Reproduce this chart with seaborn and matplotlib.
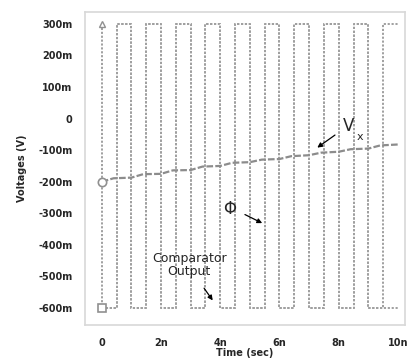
import matplotlib
matplotlib.use("Agg")
from matplotlib import pyplot as plt
import pandas as pd
import seaborn as sns

# time in ns, voltages in mV

# rising edges of the clock (phi) and of the comparator output
phi_rise = [0.5, 1.5, 2.5, 3.5, 4.5, 5.5, 6.5, 7.5, 8.5, 9.5]
comp_rise = [0.5, 1.5, 2.5, 3.5, 4.5, 5.5, 6.5, 7.5, 8.5]
high_level = 300
low_level = -600
t_end = 10.0

# Vx staircase
vx_t = [0.0, 0.4, 1.0, 1.4, 2.0, 2.4, 3.0, 3.4, 4.0, 4.4, 5.0, 5.4, 6.0,
        6.4, 7.0, 7.4, 8.0, 8.4, 9.0, 9.4, 10.0]
vx_v = [-200, -189, -187, -176, -175, -164, -163, -152, -150, -140, -138,
        -130, -128, -119, -116, -108, -105, -97, -95, -85, -82]

y_ticks = [300, 200, 100, 0, -100, -200, -300, -400, -500, -600]
y_labels = ["300m", "200m", "100m", "0", "-100m", "-200m", "-300m",
            "-400m", "-500m", "-600m"]
x_ticks = [0, 2, 4, 6, 8, 10]
x_labels = ["0", "2n", "4n", "6n", "8n", "10n"]


def square_wave(rises):
    # both waves start low at t=0 so the dotted patterns line up
    t = [0.0]
    v = [low_level]
    for r in rises:
        t += [r, r]
        v += [low_level, high_level]
        fall = r + 0.5
        if fall < t_end:
            t += [fall, fall]
            v += [high_level, low_level]
        else:
            t.append(t_end)
            v.append(high_level)
    if t[-1] < t_end:
        t.append(t_end)
        v.append(low_level)
    return pd.DataFrame({"t": t, "v": v})


# **************************************************************************


def draw():
    sns.set_style("white")
    fig = plt.figure(figsize=(4.1, 3.6), dpi=100)
    ax = fig.add_axes([0.207, 0.097, 0.781, 0.87])

    df_phi = square_wave(phi_rise)
    df_comp = square_wave(comp_rise)
    df_vx = pd.DataFrame({"t": vx_t, "v": vx_v})

    dotted = (0, (1.1, 0.9))
    grey = "#a0a0a0"
    sns.lineplot(data=df_comp, x="t", y="v", sort=False, estimator=None,
                 errorbar=None, ax=ax, color=grey, lw=1.4, linestyle=dotted)
    sns.lineplot(data=df_phi, x="t", y="v", sort=False, estimator=None,
                 errorbar=None, ax=ax, color=grey, lw=1.4, linestyle=dotted)
    # phi starts high at t=0 and drops straight away
    ax.plot([0, 0], [high_level, low_level], color=grey, lw=1.4, linestyle=dotted)
    sns.lineplot(data=df_vx, x="t", y="v", sort=False, estimator=None,
                 errorbar=None, ax=ax, color="#8c8c8c", lw=1.6,
                 linestyle=(0, (3, 1)))

    # start markers
    ax.plot(0, high_level, marker="^", ms=5, mfc="white", mec="#909090", mew=1)
    ax.plot(vx_t[0], vx_v[0], marker="o", ms=6, mfc="white", mec="#909090", mew=1.2)
    ax.plot(0, low_level, marker="s", ms=6, mfc="white", mec="#909090", mew=1.2)

    ax.set_xlim(-0.57, 10.24)
    ax.set_ylim(-654, 338)
    ax.set_xticks(x_ticks)
    ax.set_xticklabels(x_labels, fontsize=7, fontweight="bold")
    ax.set_yticks(y_ticks)
    ax.set_yticklabels(y_labels, fontsize=7, fontweight="bold")
    ax.set_xlabel("Time (sec)", fontsize=7, fontweight="bold", labelpad=0)
    ax.set_ylabel("Voltages (V)", fontsize=7, fontweight="bold", labelpad=8)
    ax.tick_params(axis="both", length=3, color="#c8c8c8", pad=6)
    for s in ax.spines.values():
        s.set_color("#d8d8d8")
        s.set_linewidth(1.2)

    # annotations
    arrow = dict(arrowstyle="-|>", color="black", lw=0.9, mutation_scale=7)
    ax.annotate("", xy=(7.2, -97), xytext=(7.95, -47), arrowprops=arrow)
    ax.text(8.15, -40, "V", fontsize=12)
    ax.text(8.62, -67, "x", fontsize=8)
    ax.annotate("", xy=(5.5, -335), xytext=(4.75, -300), arrowprops=arrow)
    ax.text(4.3, -285, "\u03a6", fontsize=12, ha="center", va="center")
    ax.text(2.95, -465, "Comparator\nOutput", fontsize=9, ha="center",
            va="center", linespacing=1.0)
    ax.annotate("", xy=(3.8, -583), xytext=(3.4, -530), arrowprops=arrow)

    fig.savefig("out.png", dpi=100)


draw()
